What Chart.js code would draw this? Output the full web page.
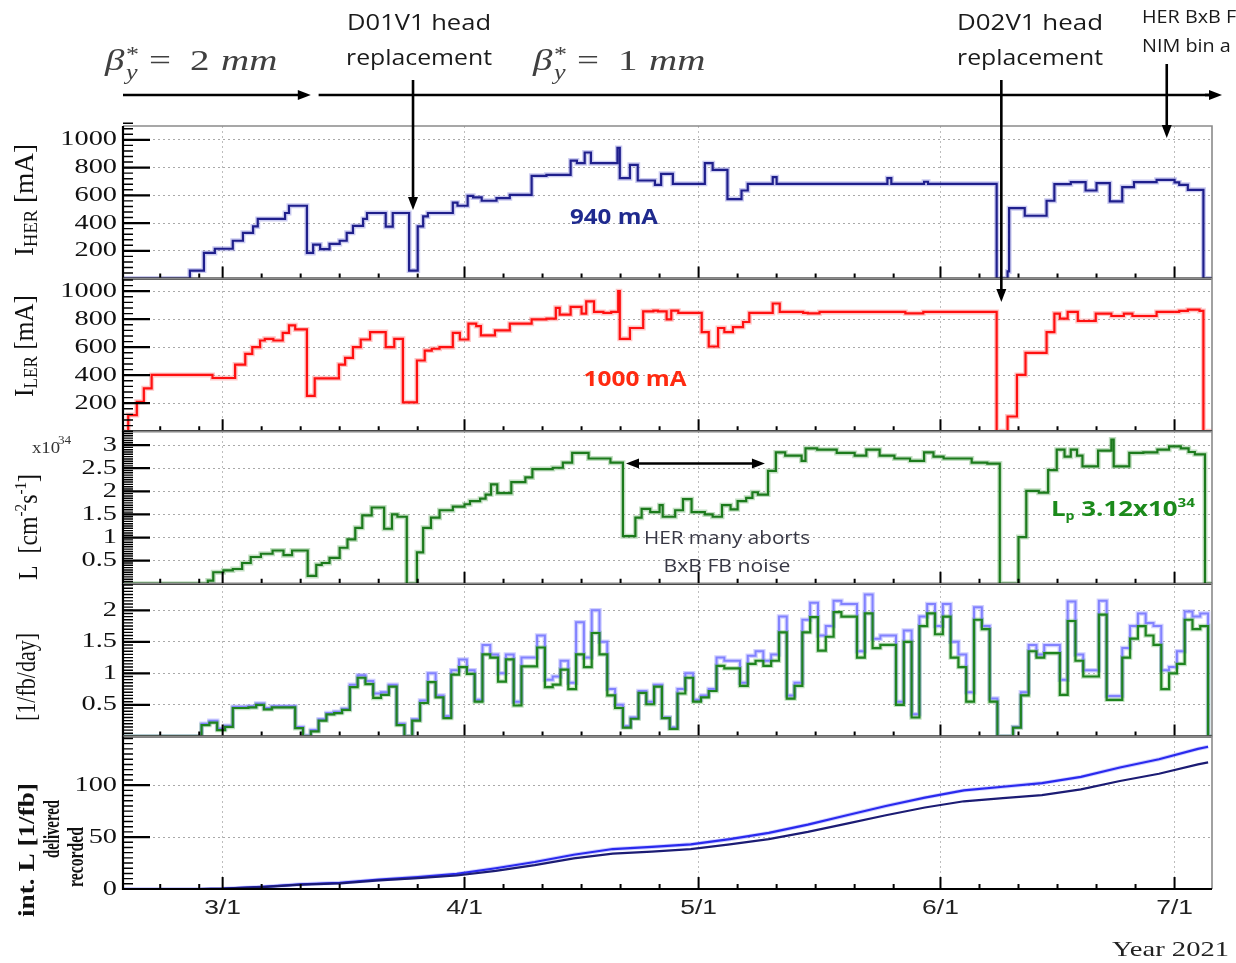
<!DOCTYPE html>
<html><head><meta charset="utf-8">
<script src="https://cdn.jsdelivr.net/npm/chart.js@4/dist/chart.umd.min.js"></script>
<style>html,body{margin:0;padding:0;background:#fff;overflow:hidden}canvas{display:block}</style>
</head><body>
<canvas id="c" width="1236" height="963"></canvas>
<script>
// x values are days since 2021-03-01
const X_MIN = -12.77, X_MAX = 126.8;
const monthStartDays = [-28, 0, 31, 61, 92, 122];
const monthTickDays = [0, 31, 61, 92, 122];
const monthTickLabels = ['3/1', '4/1', '5/1', '6/1', '7/1'];

// HER current [mA] (change points)
const herDays = [-12.77,-4.2,-2.4,-1.0,1.3,2.6,3.9,4.5,8.0,8.5,10.8,11.6,12.5,13.7,15.0,15.9,16.7,18.0,18.5,20.9,21.8,23.9,25.0,25.7,26.3,29.5,30.1,31.4,32.1,33.2,35.1,36.8,39.6,41.5,44.6,45.4,46.4,47.2,50.6,50.9,52.2,53.2,55.4,56.2,57.7,61.8,62.8,64.7,66.5,67.3,70.5,71.0,85.2,85.7,89.9,90.4,99.2,100.6,100.8,102.8,105.6,106.6,108.7,110.6,112.0,113.7,115.3,116.8,119.7,122.0,122.6,123.7,125.7,126.8];
const herMA = [0,58,185,215,273,330,376,430,473,525,185,245,213,250,273,330,380,430,473,374,473,58,376,448,473,547,525,597,585,561,580,604,741,748,851,832,909,832,942,724,820,707,676,755,683,832,784,573,635,683,731,683,724,683,698,683,0,52,508,453,561,681,696,635,688,556,660,696,712,693,676,640,0,0];

// LER current [mA]
const lerDays = [-12.77,-12.1,-11.0,-10.1,-9.1,-1.3,1.6,2.9,3.8,4.8,5.4,6.5,7.7,8.5,9.3,10.8,11.8,14.9,15.7,16.7,17.7,18.9,20.9,22.0,23.1,24.9,25.9,26.8,27.8,29.5,30.4,31.5,32.5,33.1,34.9,36.8,39.6,41.5,42.7,43.2,44.6,46.0,46.6,47.6,48.8,49.8,50.7,50.9,52.2,53.9,55.2,55.8,56.9,57.5,58.4,61.4,62.3,63.5,64.3,65.4,66.7,67.5,70.5,71.4,74.4,75.0,76.5,87.5,89.8,99.2,100.6,101.8,102.9,105.6,106.6,107.3,108.3,109.6,111.9,113.9,115.5,116.6,119.7,122.6,123.7,125.2,125.7,126.8];
const lerMA = [0,115,210,306,402,380,476,553,600,648,660,648,703,756,727,253,378,476,524,600,655,708,600,660,206,505,576,589,600,703,655,768,751,684,720,768,799,804,881,833,888,840,928,852,845,852,1000,660,737,856,861,856,799,861,845,708,605,737,708,744,780,845,912,852,845,842,852,842,852,0,105,402,560,708,840,804,852,787,840,823,840,823,852,859,868,859,0,0];

// Luminosity [1e34 cm^-2 s^-1]
const lumDays = [-12.77,-1.9,-1.2,0.1,1.3,2.5,3.6,4.9,6.4,7.8,8.9,10.9,12.0,12.7,13.7,15.0,16.0,17.0,17.9,19.1,20.7,21.7,22.4,23.6,24.9,25.7,26.7,27.8,29.5,31.0,31.7,33.0,33.7,34.4,35.2,37.0,38.8,39.7,42.3,43.6,44.8,46.9,49.7,51.3,52.9,53.7,54.8,56.0,56.4,58.0,59.0,60.1,61.8,62.8,64.0,65.1,66.0,67.1,67.9,68.6,69.9,70.9,72.1,74.2,74.7,76.2,78.7,81.0,82.5,84.2,86.1,88.1,89.9,91.1,92.4,96.0,98.0,99.6,102.0,103.0,104.6,105.8,106.9,107.9,108.7,109.5,110.2,112.2,113.9,114.2,116.2,118.0,119.8,121.3,122.8,123.8,124.6,125.9,126.8];
const lumVals = [0,0.07,0.25,0.29,0.32,0.45,0.58,0.65,0.72,0.62,0.72,0.17,0.41,0.45,0.56,0.78,0.96,1.21,1.48,1.65,1.19,1.5,1.45,0,0.68,1.21,1.43,1.59,1.67,1.72,1.79,1.84,1.93,2.15,1.96,2.20,2.30,2.48,2.51,2.62,2.83,2.71,2.62,1.03,1.43,1.62,1.55,1.70,1.45,1.59,1.83,1.55,1.50,1.45,1.70,1.61,1.79,1.86,1.98,1.93,2.44,2.84,2.77,2.66,2.93,2.90,2.83,2.77,2.90,2.77,2.71,2.66,2.84,2.75,2.71,2.62,2.6,0,1.01,2.01,1.97,2.46,2.9,2.75,2.90,2.77,2.54,2.88,3.12,2.54,2.83,2.84,2.90,2.97,2.93,2.85,2.8,0,0];

// Daily integrated luminosity [1/fb/day], one bin per day from dailyStartDay
const dailyStartDay = -2.7;
const dailyDelivered = [0.2,0.25,0.12,0.17,0.47,0.47,0.48,0.52,0.45,0.48,0.48,0.48,0.15,0.01,0.1,0.27,0.37,0.39,0.44,0.82,0.97,0.88,0.68,0.7,0.82,0.2,0,0.27,0.57,1.0,0.65,0.32,1.05,1.22,1.05,0.58,1.45,1.3,1.0,1.3,0.55,1.25,1.25,1.6,0.9,0.95,1.2,0.85,1.81,1.25,2.0,1.5,0.75,0.5,0.16,0.3,0.72,0.55,0.82,0.3,0.14,0.75,1.0,0.58,0.65,0.75,1.25,1.2,1.2,0.85,1.28,1.35,1.2,1.3,1.9,0.65,0.85,1.85,2.12,1.6,1.75,2.15,2.1,2.1,1.35,2.25,1.55,1.6,1.6,0.55,1.68,0.35,1.9,2.1,1.75,2.1,1.5,1.3,0.7,2.05,1.75,0.6,0,0,0.15,0.7,1.45,1.3,1.45,1.45,0.9,2.14,1.3,1.05,1.05,2.15,0.64,0.64,1.4,1.75,1.95,1.8,1.75,1.05,1.1,1.35,1.98,1.9,1.95];
const dailyRecorded = [0.18,0.22,0.1,0.15,0.45,0.45,0.46,0.5,0.43,0.46,0.46,0.46,0.13,0,0.08,0.25,0.35,0.37,0.42,0.78,0.93,0.83,0.61,0.66,0.79,0.18,0,0.25,0.53,0.86,0.62,0.29,0.98,1.1,0.99,0.55,1.3,1.25,0.87,1.22,0.49,1.11,1.11,1.41,0.78,0.82,1.06,0.75,1.3,1.1,1.64,1.3,0.65,0.45,0.14,0.28,0.69,0.51,0.79,0.29,0.12,0.68,0.93,0.55,0.62,0.72,1.12,1.08,1.08,0.8,1.15,1.2,1.12,1.2,1.65,0.6,0.8,1.65,1.89,1.36,1.58,1.97,1.9,1.9,1.25,1.95,1.4,1.45,1.45,0.5,1.5,0.3,1.75,1.95,1.62,1.9,1.25,1.1,0.55,1.85,1.7,0.55,0,0,0.14,0.65,1.35,1.25,1.32,1.32,0.66,1.83,1.2,0.95,0.95,1.93,0.58,0.58,1.25,1.55,1.75,1.6,1.45,0.75,1.0,1.15,1.85,1.7,1.75];

// Integrated luminosity [1/fb]
const intDays = [-12.77,-3,0,5,10,15,20,25,30,35,40,45,50,55,60,65,70,75,80,85,90,95,100,105,110,115,120,125,126.3];
const intDelivered = [0,0,0.3,2.0,4.5,6.0,9,11.5,14.5,20,26,33,38.5,40.5,43,48,54,62,71,80,88,95,98.5,102,108,117,125,135,137];
const intRecorded = [0,0,0.3,1.8,4.2,5.5,8.3,10.5,13,17.5,23,29.5,34,36,38.5,43,48,55,63,71,78.5,84.5,87.5,90.5,96,104,111,120,122];

// y-axis tick labels per panel
const yTicksHer = [200, 400, 600, 800, 1000];
const yTicksLer = [200, 400, 600, 800, 1000];
const yTicksLum = [0.5, 1, 1.5, 2, 2.5, 3];
const yTicksDay = [0.5, 1, 1.5, 2];
const yTicksInt = [0, 50, 100];

// panels from top to bottom
const panels = [
  {id: 'yHer', min: 0, max: 1100, labels: yTicksHer, minor: 40},
  {id: 'yLer', min: 0, max: 1090, labels: yTicksLer, minor: 40},
  {id: 'yLum', min: 0, max: 3.3, labels: yTicksLum, minor: 0.05},
  {id: 'yDay', min: 0, max: 2.42, labels: yTicksDay, minor: 0.05},
  {id: 'yInt', min: 0, max: 147, labels: yTicksInt, minor: 5}
];

const SERIF = '"Liberation Serif", "Times New Roman", serif';
const SANS = '"Open Sans", "Noto Sans", sans-serif';
const SX = 1.3;

function pts(days, vals) { return days.map((d, i) => ({x: d, y: vals[i]})); }
function binPts(start, vals) {
  const a = [{x: X_MIN, y: 0}];
  vals.forEach((v, i) => a.push({x: start + i, y: v}));
  a.push({x: start + vals.length, y: 0});
  a.push({x: X_MAX, y: 0});
  return a;
}
function ds(data, yAxisID, color, width, order, stepped) {
  return {data, yAxisID, xAxisID: 'x', borderColor: color, borderWidth: width, pointRadius: 0,
    stepped, fill: false, tension: 0, order, borderJoinStyle: 'miter'};
}

const datasets = [
  ds(pts(herDays, herMA), 'yHer', 'rgba(70,70,200,0.28)', 5, 20, true),
  ds(pts(herDays, herMA), 'yHer', '#1f1f8c', 2.2, 2, true),
  ds(pts(lerDays, lerMA), 'yLer', 'rgba(255,70,70,0.3)', 5, 20, true),
  ds(pts(lerDays, lerMA), 'yLer', '#ff1010', 2.2, 2, true),
  ds(pts(lumDays, lumVals), 'yLum', 'rgba(40,140,40,0.28)', 5, 20, true),
  ds(pts(lumDays, lumVals), 'yLum', '#1c7a1c', 2.2, 2, true),
  ds(binPts(dailyStartDay, dailyDelivered), 'yDay', 'rgba(120,120,255,0.35)', 4.5, 21, true),
  ds(binPts(dailyStartDay, dailyDelivered), 'yDay', '#8282ff', 2, 6, true),
  ds(binPts(dailyStartDay, dailyRecorded), 'yDay', 'rgba(40,150,40,0.28)', 4.5, 20, true),
  ds(binPts(dailyStartDay, dailyRecorded), 'yDay', '#1f831f', 2.2, 2, true),
  ds(pts(intDays, intDelivered), 'yInt', 'rgba(60,60,255,0.25)', 4, 21, false),
  ds(pts(intDays, intDelivered), 'yInt', '#2a2aee', 2.2, 3, false),
  ds(pts(intDays, intRecorded), 'yInt', '#1c1c74', 2.2, 2, false)
];

function yScale(p) {
  return {
    type: 'linear', position: 'left', stack: 'panels', stackWeight: 1,
    min: p.min, max: p.max,
    afterBuildTicks: s => { s.ticks = p.labels.map(v => ({value: v})); },
    afterFit: s => { s.width = 123; },
    ticks: {display: false},
    grid: {color: '#a9a9a9', lineWidth: 1, drawTicks: false},
    border: {display: false, dash: [2, 3]}
  };
}

const scales = {
  x: {
    type: 'linear', position: 'bottom', min: X_MIN, max: X_MAX,
    afterBuildTicks: s => { s.ticks = monthTickDays.map(v => ({value: v})); },
    afterFit: s => { s.height = 74; },
    ticks: {display: false},
    grid: {color: '#bdbdbd', lineWidth: 1, drawTicks: false},
    border: {display: false, dash: [2, 3]}
  }
};
// stacked left axes are laid out bottom-up in definition order
panels.slice().reverse().forEach(p => { scales[p.id] = yScale(p); });

// ---------- text helpers ----------
function T(ctx, s, x, y, font, color, align, sx, base) {
  ctx.save();
  ctx.font = font; ctx.fillStyle = color;
  ctx.textAlign = align || 'left'; ctx.textBaseline = base || 'middle';
  ctx.translate(x, y); ctx.scale(sx == null ? SX : sx, 1);
  ctx.fillText(s, 0, 0);
  ctx.restore();
}
function fitT(ctx, s, x, y, font, color, w, align) {
  ctx.save(); ctx.font = font; const m = ctx.measureText(s).width; ctx.restore();
  T(ctx, s, x, y, font, color, align, w / m);
}
function measureRuns(ctx, runs) {
  let W = 0;
  runs.forEach(r => { ctx.font = r.f; r.w = ctx.measureText(r.t).width; W += r.w; });
  return W;
}
function runsFit(ctx, runs, x, y, color, w) {
  ctx.save();
  const W = measureRuns(ctx, runs);
  ctx.translate(x, y); ctx.scale(w / W, 1);
  ctx.fillStyle = color; ctx.textBaseline = 'alphabetic'; ctx.textAlign = 'left';
  let cx = 0;
  runs.forEach(r => { ctx.font = r.f; ctx.fillText(r.t, cx, r.dy || 0); cx += r.w; });
  ctx.restore();
}
// rotated (bottom-to-top) text, baseline at canvas x = bx, centred on canvas y = cy
function rotRuns(ctx, runs, bx, cy, color, len, sx) {
  ctx.save();
  const W = measureRuns(ctx, runs);
  ctx.translate(bx, cy); ctx.scale(sx || SX, 1); ctx.rotate(-Math.PI / 2);
  ctx.scale(len / W, 1);
  ctx.fillStyle = color; ctx.textBaseline = 'alphabetic'; ctx.textAlign = 'left';
  let cx = -W / 2;
  runs.forEach(r => { ctx.font = r.f; ctx.fillText(r.t, cx, r.dy || 0); cx += r.w; });
  ctx.restore();
}
function arrowHead(ctx, x, y, dir) {
  const L = 13, H = 5;
  ctx.beginPath();
  if (dir === 'r') { ctx.moveTo(x, y); ctx.lineTo(x - L, y - H); ctx.lineTo(x - L, y + H); }
  if (dir === 'l') { ctx.moveTo(x, y); ctx.lineTo(x + L, y - H); ctx.lineTo(x + L, y + H); }
  if (dir === 'd') { ctx.moveTo(x, y); ctx.lineTo(x - H, y - L); ctx.lineTo(x + H, y - L); }
  ctx.closePath(); ctx.fill();
}
function line(ctx, x1, y1, x2, y2) { ctx.beginPath(); ctx.moveTo(x1, y1); ctx.lineTo(x2, y2); ctx.stroke(); }

const decor = {
  id: 'decor',
  afterDraw(chart) {
    const ctx = chart.ctx, ca = chart.chartArea, xs = chart.scales.x;
    const L = ca.left, R = ca.right;
    const X = d => xs.getPixelForValue(d);

    const minorDays = [];
    monthStartDays.forEach(m => { for (let k = 5; k <= 25; k += 5) minorDays.push(m + k); });

    panels.forEach(p => {
      const s = chart.scales[p.id];
      const Tp = s.top, B = s.bottom;
      ctx.save();
      ctx.strokeStyle = '#8a8a8a'; ctx.lineWidth = 1.6;
      ctx.beginPath(); ctx.moveTo(L, Tp); ctx.lineTo(R, Tp); ctx.lineTo(R, B); ctx.stroke();
      ctx.strokeStyle = '#000';
      ctx.lineWidth = 1.4;
      const n = Math.round((p.max - p.min) / p.minor);
      ctx.beginPath();
      for (let i = 0; i <= n; i++) { const y = s.getPixelForValue(p.min + i * p.minor); ctx.moveTo(L, y); ctx.lineTo(L + 10, y); }
      ctx.stroke();
      ctx.lineWidth = 2.2;
      ctx.beginPath();
      p.labels.forEach(v => { const y = s.getPixelForValue(v); ctx.moveTo(L, y); ctx.lineTo(L + 27, y); });
      ctx.stroke();
      ctx.lineWidth = 2;
      ctx.beginPath();
      minorDays.forEach(d => { if (d > X_MIN && d < X_MAX) { ctx.moveTo(X(d), B); ctx.lineTo(X(d), B - 5); } });
      monthTickDays.forEach(d => { ctx.moveTo(X(d), B); ctx.lineTo(X(d), B - 12); });
      ctx.stroke();
      ctx.lineWidth = 2.2;
      line(ctx, L, Tp, L, B + 1);
      line(ctx, L - 1, B, R, B);
      ctx.restore();
      p.labels.forEach(v => {
        T(ctx, String(v), L - 6, s.getPixelForValue(v), '21px ' + SERIF, '#111', 'right', 1.35);
      });
    });

    monthTickDays.forEach((d, i) => T(ctx, monthTickLabels[i], X(d), 908, '20px "Liberation Sans", Arial, sans-serif', '#222', 'center', 1.32));
    T(ctx, 'Year 2021', 1112, 950, '22px ' + SERIF, '#222', 'left', 1.3);

    const tf = sz => sz + 'px ' + SERIF;
    rotRuns(ctx, [{t: 'I', f: tf(22)}, {t: 'HER', f: tf(15), dy: 3}, {t: ' [mA]', f: tf(22)}], 33, 200, '#111', 112, 1.25);
    rotRuns(ctx, [{t: 'I', f: tf(22)}, {t: 'LER', f: tf(15), dy: 3}, {t: ' [mA]', f: tf(22)}], 33, 346, '#111', 102, 1.25);
    rotRuns(ctx, [{t: 'L  [cm', f: tf(22)}, {t: '-2', f: tf(14), dy: -9}, {t: 's', f: tf(22)}, {t: '-1', f: tf(14), dy: -9}, {t: ']', f: tf(22)}], 37, 527, '#111', 106, 1.25);
    T(ctx, 'x10', 32, 449, tf(17), '#333', 'left', 1.1);
    T(ctx, '34', 58, 441, tf(12), '#333', 'left', 1.1);
    rotRuns(ctx, [{t: '[1/fb/day]', f: tf(22)}], 35, 677, '#111', 88, 1.25);
    rotRuns(ctx, [{t: 'int. L [1/fb]', f: 'bold ' + tf(20)}], 34, 850, '#111', 134, 1.12);
    rotRuns(ctx, [{t: 'delivered', f: 'bold ' + tf(18)}], 59, 829, '#111', 58, 1.25);
    rotRuns(ctx, [{t: 'recorded', f: 'bold ' + tf(18)}], 83, 857, '#111', 60, 1.25);

    const ink = '#1a1a1a';
    ctx.save();
    ctx.strokeStyle = '#000'; ctx.fillStyle = '#000'; ctx.lineWidth = 2.6;
    const split = X(11.3), start2 = X(12.3);
    line(ctx, L, 95, split - 10, 95); arrowHead(ctx, split, 95, 'r');
    line(ctx, start2, 95, 1212, 95); arrowHead(ctx, 1222, 95, 'r');
    line(ctx, 1205, 95, 1212, 95);
    const a1 = X(24.4), a2 = X(99.8), a3 = X(121.0);
    line(ctx, a1, 80, a1, 198); arrowHead(ctx, a1, 210, 'd');
    line(ctx, a2, 80, a2, 290); arrowHead(ctx, a2, 302, 'd');
    line(ctx, a3, 64, a3, 126); arrowHead(ctx, a3, 138, 'd');
    ctx.restore();

    const bc = '#404040';
    const beta = (x0, num) => {
      T(ctx, 'β', x0, 70, 'italic 30px ' + SERIF, bc, 'left', 1.3, 'alphabetic');
      T(ctx, '*', x0 + 21, 61, '20px ' + SERIF, bc, 'left', 1.3, 'alphabetic');
      T(ctx, 'y', x0 + 21, 79, 'italic 20px ' + SERIF, bc, 'left', 1.3, 'alphabetic');
      T(ctx, '=', x0 + 44, 70, '30px ' + SERIF, bc, 'left', 1.3, 'alphabetic');
      T(ctx, num, x0 + 85, 70, '30px ' + SERIF, bc, 'left', 1.3, 'alphabetic');
      T(ctx, 'mm', x0 + 116, 70, 'italic 30px ' + SERIF, bc, 'left', 1.3, 'alphabetic');
    };
    beta(105, '2');
    beta(533, '1');

    fitT(ctx, 'D01V1 head', 419, 24, '21px ' + SANS, ink, 144, 'center');
    fitT(ctx, 'replacement', 419, 59, '21px ' + SANS, ink, 146, 'center');
    fitT(ctx, 'D02V1 head', 1030, 24, '21px ' + SANS, ink, 146, 'center');
    fitT(ctx, 'replacement', 1030, 59, '21px ' + SANS, ink, 146, 'center');
    T(ctx, 'HER BxB F', 1142, 18, '18px ' + SANS, ink, 'left', 1.1);
    T(ctx, 'NIM bin a', 1142, 47, '18px ' + SANS, ink, 'left', 1.1);

    const BOLD = 'bold 22px ' + SANS;
    fitT(ctx, '940 mA', 614, 218, BOLD, '#1f2a8e', 88, 'center');
    fitT(ctx, '1000 mA', 635, 380, BOLD, '#ff2a10', 103, 'center');
    runsFit(ctx, [{t: 'L', f: BOLD}, {t: 'p', f: 'bold 12px ' + SANS, dy: 4}, {t: ' 3.12x10', f: BOLD}, {t: '34', f: 'bold 13px ' + SANS, dy: -9}], 1051, 516, '#1b8a1b', 144);
    fitT(ctx, 'HER many aborts', 727, 539, '18px ' + SANS, '#383845', 166, 'center');
    fitT(ctx, 'BxB FB noise', 727, 567, '18px ' + SANS, '#383845', 127, 'center');
    const yl = chart.scales.yLum;
    const da = X(51.7), db = X(69.5), dy = yl.getPixelForValue(2.6);
    ctx.save(); ctx.strokeStyle = '#000'; ctx.fillStyle = '#000'; ctx.lineWidth = 2.4;
    line(ctx, da + 8, dy, db - 8, dy); arrowHead(ctx, da, dy, 'l'); arrowHead(ctx, db, dy, 'r');
    ctx.restore();
  }
};

new Chart(document.getElementById('c'), {
  type: 'line',
  data: {datasets},
  options: {
    responsive: false, animation: false, events: [],
    layout: {padding: {top: 126, right: 24, bottom: 0, left: 0}},
    plugins: {legend: {display: false}, tooltip: {enabled: false}},
    scales
  },
  plugins: [decor]
});
</script>
</body></html>
